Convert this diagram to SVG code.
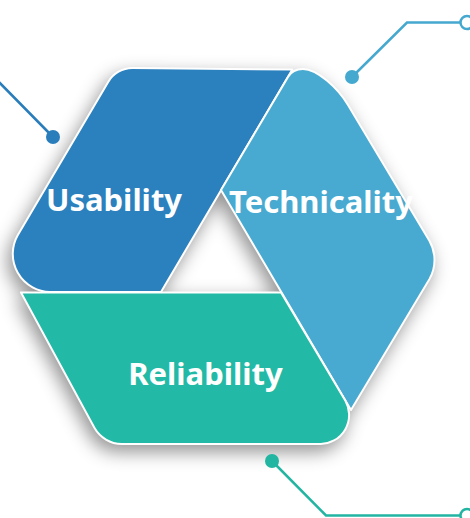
<svg xmlns="http://www.w3.org/2000/svg" xmlns:xlink="http://www.w3.org/1999/xlink" width="470" height="518" viewBox="0 0 470 518">
  <defs>
    <style>
      .seg { stroke: #ffffff; stroke-width: 2; stroke-linejoin: round; }
      .usab { fill: #2b80be; }
      .tech { fill: #48aad0; }
      .reli { fill: #22baa6; }
      .label { fill: #ffffff; font-family: "Noto Sans", "Open Sans", "DejaVu Sans", sans-serif; font-weight: bold; font-size: 31px; text-anchor: middle; }
      .wire { fill: none; stroke-width: 2.5; stroke-linecap: round; stroke-linejoin: miter; }
      .ring { fill: #ffffff; stroke-width: 2.5; }
    </style>
    <filter id="soft-shadow" x="-20%" y="-20%" width="140%" height="140%">
      <feGaussianBlur in="SourceAlpha" stdDeviation="9"/>
      <feOffset dx="-4" dy="7" result="blurred"/>
      <feFlood flood-color="#000000" flood-opacity="0.42"/>
      <feComposite in2="blurred" operator="in"/>
    </filter>
  </defs>

  <rect width="470" height="518" fill="#ffffff"/>

  <!-- shadow cast by the three segments -->
  <g id="shadow" filter="url(#soft-shadow)">
    <use xlink:href="#usability-shape"/>
    <use xlink:href="#technicality-shape"/>
    <use xlink:href="#reliability-shape"/>
  </g>

  <!-- connectors -->
  <g id="connectors">
    <g stroke="#2a7dbb" fill="#2a7dbb">
      <polyline class="wire" points="-6,77 53,137"/>
      <circle cx="53" cy="137" r="7" stroke="none"/>
    </g>
    <g stroke="#45a8cf" fill="#45a8cf">
      <polyline class="wire" points="352,77 407,22.5 460,22.5"/>
      <circle cx="352" cy="77" r="7" stroke="none"/>
      <circle class="ring" cx="467" cy="22.5" r="6.5"/>
    </g>
    <g stroke="#22b5a2" fill="#22b5a2">
      <polyline class="wire" points="272,461 326,515.5 460,515.5"/>
      <circle cx="272" cy="461" r="7" stroke="none"/>
      <circle class="ring" cx="467" cy="515.5" r="6.5"/>
    </g>
  </g>

  <!-- Usability -->
  <g id="usability">
    <path id="usability-shape" class="seg usab"
          d="M161,292 L50,292 A38,38 0 0 1 17.7,235.3 L108.2,81.9 A28,28 0 0 1 132.6,68 L292.3,69.5 Z"/>
    <text class="label" x="114" y="211">Usability</text>
  </g>

  <!-- Technicality -->
  <g id="technicality">
    <path id="technicality-shape" class="seg tech"
          d="M221,190 L288,77 C291,71.8 297,69 303,69 C317,69 337.7,87.9 348,105 L429.4,240.7 A39,39 0 0 1 429.4,279.3 L351,410 Z"/>
    <text class="label" x="321" y="213">Technicality</text>
  </g>

  <!-- Reliability -->
  <g id="reliability">
    <path id="reliability-shape" class="seg reli"
          d="M21,292.5 L281,292.5 L345.4,400.8 A29,29 0 0 1 320.7,444 L121.8,444 A32,32 0 0 1 94.4,427.8 Z"/>
    <text class="label" x="205.5" y="385">Reliability</text>
  </g>
</svg>
